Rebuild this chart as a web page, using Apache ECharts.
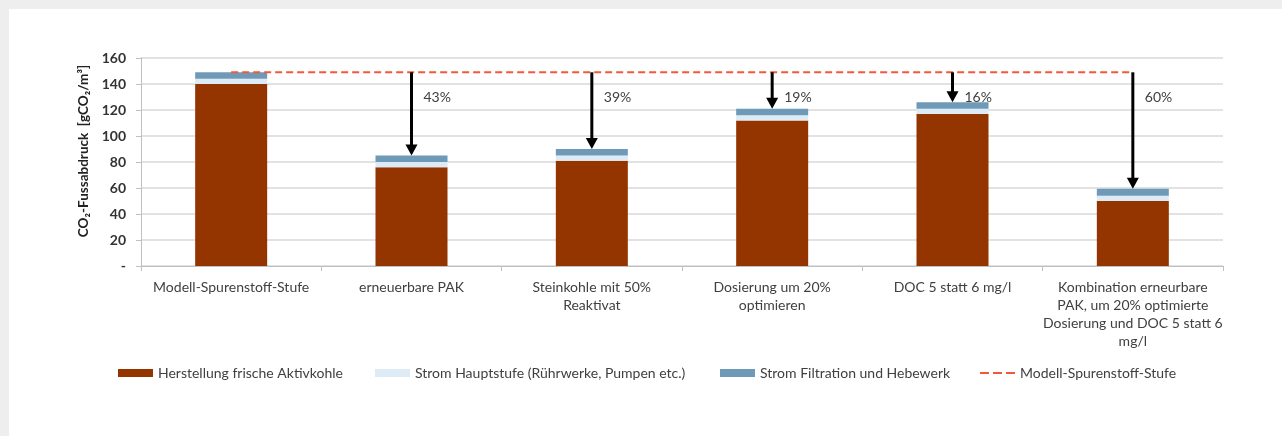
<!DOCTYPE html>
<html>
<head>
<meta charset="utf-8">
<script src="https://cdn.jsdelivr.net/npm/echarts@6/dist/echarts.min.js"></script>
<style>
  html, body { margin: 0; padding: 0; background: #eeeeee; width: 1282px; height: 436px; overflow: hidden; }
  #chart { position: absolute; left: 9px; top: 9px; width: 1273px; height: 427px; background: #ffffff; }
</style>
</head>
<body>
<div id="chart"></div>
<script>
// ---- data ----
const categories = [
  'Modell-Spurenstoff-Stufe',
  'erneuerbare PAK',
  'Steinkohle mit 50%\nReaktivat',
  'Dosierung um 20%\noptimieren',
  'DOC 5 statt 6 mg/l',
  'Kombination erneurbare\nPAK, um 20% optimierte\nDosierung und DOC 5 statt 6\nmg/l'
];
const seriesNames = [
  'Herstellung frische Aktivkohle',
  'Strom Hauptstufe (Rührwerke, Pumpen etc.)',
  'Strom Filtration und Hebewerk',
  'Modell-Spurenstoff-Stufe'
];
const aktivkohle = [140, 76, 81, 112, 117, 50];
const stromHaupt = [4, 4, 4, 4, 4, 4];
const stromFiltration = [5, 5, 5, 5, 5, 5.5];
const referenz = [149, 149, 149, 149, 149, 149];
const reduktion = [null, '43%', '39%', '19%', '16%', '60%'];
const yTicks = [0, 20, 40, 60, 80, 100, 120, 140, 160];

// ---- derived ----
const totals = aktivkohle.map((v, i) => v + stromHaupt[i] + stromFiltration[i]);
const arrowData = [];
reduktion.forEach((p, i) => { if (p) arrowData.push([i, referenz[i], totals[i], p]); });

const FONT = 'Lato';
const TXT = '#404040';
const colors = ['#943500', '#dcebf6', '#6e9ab8', '#f4583a'];
const DASH_ICON = 'path://M0,0h9v2h-9z M13,0h9v2h-9z M26,0h9v2h-9z';

const chart = echarts.init(document.getElementById('chart'), null, { renderer: 'canvas' });

function legendAt(name, left, icon, h) {
  return {
    data: [name], left: left, top: 352, itemWidth: 35, itemHeight: h, itemGap: 5,
    icon: icon, selectedMode: false,
    textStyle: { fontFamily: FONT, fontSize: 14, color: TXT }
  };
}

chart.setOption({
  animation: false,
  textStyle: { fontFamily: FONT },
  grid: { left: 132, right: 59, top: 49, bottom: 170, containLabel: false },
  legend: [
    legendAt(seriesNames[0], 104, 'rect', 8),
    legendAt(seriesNames[1], 361, 'rect', 8),
    legendAt(seriesNames[2], 706, 'rect', 8),
    legendAt(seriesNames[3], 966, DASH_ICON, 2)
  ],
  xAxis: {
    type: 'category',
    data: categories,
    axisLine: { lineStyle: { color: '#bfbfbf', width: 1 } },
    axisTick: { show: true, length: 5, lineStyle: { color: '#bfbfbf' } },
    axisLabel: { interval: 0, fontFamily: FONT, fontSize: 14, color: TXT, lineHeight: 18, margin: 12, align: 'center' }
  },
  yAxis: {
    type: 'value',
    min: 0, max: 160, interval: 20,
    name: 'CO₂-Fussabdruck  [gCO₂/m³]',
    nameLocation: 'middle',
    nameGap: 48,
    nameRotate: 90,
    nameTextStyle: { fontFamily: FONT, fontSize: 13.5, fontWeight: 'bold', color: '#222', padding: [0, 0, 0, 22] },
    axisLine: { show: true, lineStyle: { color: '#bfbfbf' } },
    axisTick: { show: true, length: 5, lineStyle: { color: '#bfbfbf' } },
    splitLine: { lineStyle: { color: '#d9d9d9', width: 1.5 } },
    axisLabel: {
      fontFamily: FONT, fontSize: 14, fontWeight: 'bold', color: '#333', margin: 15,
      formatter: v => (yTicks.indexOf(v) >= 0 ? (v === 0 ? '-' : String(v)) : '')
    }
  },
  series: [
    {
      name: seriesNames[0], type: 'bar', stack: 'total', barWidth: 72,
      itemStyle: { color: colors[0] }, data: aktivkohle
    },
    {
      name: seriesNames[1], type: 'bar', stack: 'total', barWidth: 72,
      itemStyle: { color: colors[1] }, data: stromHaupt
    },
    {
      name: seriesNames[2], type: 'bar', stack: 'total', barWidth: 72,
      itemStyle: { color: colors[2] }, data: stromFiltration
    },
    {
      name: seriesNames[3], type: 'line', symbol: 'none', z: 5,
      lineStyle: { color: colors[3], width: 2, type: [7, 4] },
      itemStyle: { color: colors[3] },
      data: referenz
    },
    {
      type: 'custom', z: 6, silent: true,
      data: arrowData,
      encode: { x: 0, y: 1 },
      renderItem: function (params, api) {
        const i = api.value(0);
        const s = api.coord([i, api.value(1)]);
        const e = api.coord([i, api.value(2)]);
        const head = 11, halfW = 6;
        return {
          type: 'group',
          children: [
            { type: 'line', shape: { x1: s[0], y1: s[1], x2: e[0], y2: e[1] - head + 1 },
              style: { stroke: '#000', lineWidth: 3 } },
            { type: 'polygon', shape: { points: [[e[0] - halfW, e[1] - head], [e[0] + halfW, e[1] - head], [e[0], e[1]]] },
              style: { fill: '#000' } },
            { type: 'text', x: s[0] + 12, y: s[1] + 25,
              style: { text: arrowData[params.dataIndex][3], fontFamily: FONT, fontSize: 14, fill: TXT, textVerticalAlign: 'middle' } }
          ]
        };
      }
    }
  ]
});
</script>
</body>
</html>
